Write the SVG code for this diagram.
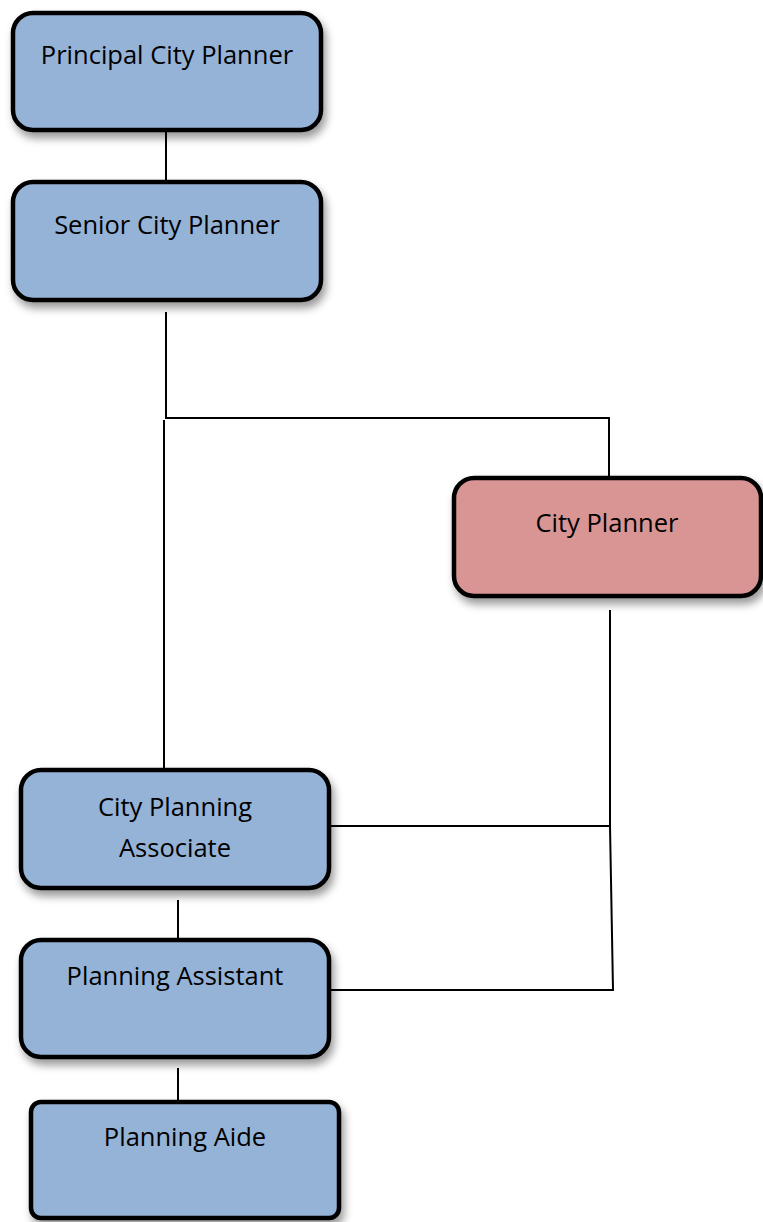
<svg xmlns="http://www.w3.org/2000/svg" width="763" height="1222" viewBox="0 0 763 1222">
<defs>
<filter id="sh" x="-10%" y="-10%" width="130%" height="140%">
<feDropShadow dx="3" dy="6" stdDeviation="4" flood-color="#000" flood-opacity="0.4"/>
</filter>
<style>
.box{stroke:#000;stroke-width:4.5;filter:url(#sh)}
.blue{fill:#95b3d7}
.red{fill:#d99594}
.lbl{font-family:"Open Sans","Liberation Sans",sans-serif;font-size:25.5px;fill:#000;text-anchor:middle}
.c{stroke:#000;stroke-width:2;fill:none}
</style>
</defs>
<g id="connectors">
<line class="c" x1="166" y1="132" x2="166" y2="180"/>
<polyline class="c" points="166,312 166,418 609,418 609,477"/>
<line class="c" x1="164" y1="420" x2="164" y2="768"/>
<polyline class="c" points="610,610 610,826 613,990 330,990"/>
<line class="c" x1="330" y1="826" x2="610" y2="826"/>
<line class="c" x1="178" y1="900" x2="178" y2="938"/>
<line class="c" x1="178" y1="1068" x2="178" y2="1101"/>
</g>
<g id="principal">
<rect class="box blue" x="13" y="13" width="308" height="117" rx="20"/>
<text class="lbl" x="167" y="64">Principal City Planner</text>
</g>
<g id="senior">
<rect class="box blue" x="13" y="182" width="308" height="118" rx="20"/>
<text class="lbl" x="167" y="234">Senior City Planner</text>
</g>
<g id="cityplanner">
<rect class="box red" x="454" y="478" width="307" height="118" rx="20"/>
<text class="lbl" x="607" y="532">City Planner</text>
</g>
<g id="associate">
<rect class="box blue" x="21" y="770" width="308" height="118" rx="20"/>
<text class="lbl" x="175" y="816">City Planning</text>
<text class="lbl" x="175" y="857">Associate</text>
</g>
<g id="assistant">
<rect class="box blue" x="21" y="940" width="308" height="117" rx="20"/>
<text class="lbl" x="175" y="985">Planning Assistant</text>
</g>
<g id="aide">
<rect class="box blue" x="31" y="1102" width="308" height="116" rx="10"/>
<text class="lbl" x="185" y="1146">Planning Aide</text>
</g>
</svg>
